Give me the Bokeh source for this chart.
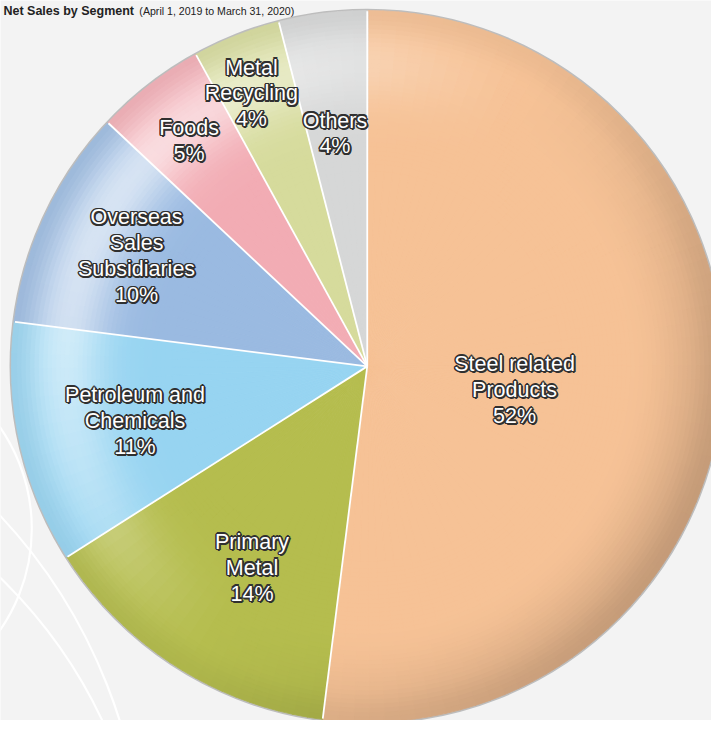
import numpy as np
from bokeh.plotting import figure
from bokeh.models import Range1d, ColumnDataSource
from bokeh.core.properties import value
from bokeh.embed import file_html
from bokeh.resources import INLINE

# ---------------- data ----------------
title_main = "Net Sales by Segment"
title_sub = "(April 1, 2019 to March 31, 2020)"
segments = ["Steel related\nProducts", "Primary\nMetal", "Petroleum and\nChemicals",
            "Overseas\nSales\nSubsidiaries", "Foods", "Metal\nRecycling", "Others"]
shares = [52, 14, 11, 10, 5, 4, 4]
colors = ["#F6C296", "#B5BD4E", "#97D4F1", "#9ABAE1", "#F2ACB4", "#D6DB9C", "#D6D7D7"]

# ---------------- layout / style ----------------
W, H = 711, 720
S = W / 727.0                     # pixels per data unit
R = 363.0
label_r = [0.42, 0.653, 0.672, 0.72, 0.81, 0.835, 0.662]
label_da = [5.4, -2.6, -0.6, 0.3, -0.5, -1.4, -0.7]
line_h = 26.5
FONT = value("Liberation Sans")
fs = lambda px: "%.1fpx" % (px * S)

p = figure(width=W, height=H, output_backend="svg", toolbar_location=None,
           x_range=Range1d(-375, 352), y_range=Range1d(-362, 374),
           min_border=0, background_fill_color="#F3F3F3", border_fill_color="#F3F3F3")
p.axis.visible = False
p.grid.visible = False
p.outline_line_color = None

# faint background curves (centre x, centre y, radius) in reference pixels
bg_arcs = [(-150, 540, 182), (-400, 900, 547), (-350, 950, 502)]
for cx, cy, rr in bg_arcs:
    p.arc(x=cx - 375, y=374 - cy, radius=rr, start_angle=0, end_angle=2 * np.pi,
          line_color="white", line_width=2.2, line_alpha=0.95)

# title, small, in the top strip
p.text(x=[-372], y=[363], text=[title_main], text_font=FONT, text_font_style="bold",
       text_font_size=fs(12.8), text_color="#222222", text_align="left",
       text_baseline="alphabetic")
p.text(x=[-233], y=[363], text=[title_sub], text_font=FONT, text_font_style="normal",
       text_font_size=fs(10.8), text_color="#222222", text_align="left",
       text_baseline="alphabetic")

# rim shadow
p.arc(x=0, y=0, radius=R + 1.5, start_angle=0, end_angle=2 * np.pi,
      line_color="#BDBDBD", line_width=2.5)

def hex2rgb(h):
    h = h.lstrip("#")
    return np.array([int(h[i:i + 2], 16) for i in (0, 2, 4)], dtype=float)

def rgb2hex(c):
    c = np.clip(np.round(c), 0, 255).astype(int)
    return "#%02x%02x%02x" % tuple(c)

def smooth(a, b, x):
    t = np.clip((x - a) / (b - a), 0, 1)
    return t * t * (3 - 2 * t)

total = float(sum(shares))
cum = np.concatenate([[0.0], np.cumsum(shares)]) / total
theta0 = cum[:-1] * 2 * np.pi      # clockwise from top
theta1 = cum[1:] * 2 * np.pi

ring_edges = np.concatenate([[0.0, 0.55], np.linspace(0.57, 1.0, 36)])
thL = np.deg2rad(300)

st, en, inn, out, col = [], [], [], [], []
for i, base in enumerate(colors):
    b = hex2rgb(base)
    n_ang = max(2, int(np.ceil(np.rad2deg(theta1[i] - theta0[i]) / 2.5)))
    angs = np.linspace(theta0[i], theta1[i], n_ang + 1)
    for a0, a1 in zip(angs[:-1], angs[1:]):
        am = 0.5 * (a0 + a1)
        c = np.cos(am - thL)
        for r0, r1 in zip(ring_edges[:-1], ring_edges[1:]):
            t = 0.5 * (r0 + r1)
            hl = 0.6 * max(c, 0) ** 1.2 * np.exp(-((t - 0.85) / 0.11) ** 2)
            dk = 0.16 * max(-c, 0) * smooth(0.7, 1.0, t) ** 1.5 + 0.04 * smooth(0.9, 1.0, t)
            cc = b + (255 - b) * hl
            cc = cc * (1 - dk)
            st.append(np.pi / 2 - a0)
            en.append(np.pi / 2 - a1 - 0.002)
            inn.append(r0 * R)
            out.append(r1 * R + 0.8)
            col.append(rgb2hex(cc))

src = ColumnDataSource(dict(start=st, end=en, inner=inn, outer=out, color=col))
p.annular_wedge(x=0, y=0, inner_radius="inner", outer_radius="outer",
                start_angle="start", end_angle="end", direction="clock",
                fill_color="color", line_color="color", line_width=0.8, source=src)

# white separators
bang = np.pi / 2 - cum[:-1] * 2 * np.pi
p.segment(x0=0, y0=0, x1=R * np.cos(bang), y1=R * np.sin(bang),
          line_color="white", line_width=1.8)

# labels
lx, ly, lt = [], [], []
for i, name in enumerate(segments):
    lines = name.split("\n") + [f"{shares[i]}%"]
    mid = 0.5 * (theta0[i] + theta1[i]) + np.deg2rad(label_da[i])
    cx = label_r[i] * R * np.sin(mid)
    cy = label_r[i] * R * np.cos(mid)
    n = len(lines)
    for k, s in enumerate(lines):
        lx.append(cx)
        ly.append(cy + ((n - 1) / 2 - k) * line_h)
        lt.append(s)
lsrc = ColumnDataSource(dict(x=lx, y=ly, text=lt))

offs = [(-1.5, 0), (1.5, 0), (0, -1.5), (0, 1.5), (-1.1, -1.1), (1.1, -1.1),
        (-1.1, 1.1), (1.1, 1.1), (1.0, 2.0), (2.0, 1.0)]
for dx, dy in offs:
    p.text(x="x", y="y", text="text", source=lsrc, x_offset=dx, y_offset=dy,
           text_font=FONT, text_font_size=fs(22), text_color="#303030",
           text_align="center", text_baseline="middle")
p.text(x="x", y="y", text="text", source=lsrc,
       text_font=FONT, text_font_size=fs(22), text_color="white",
       text_align="center", text_baseline="middle")

open("out.html", "w").write(file_html(p, INLINE))
